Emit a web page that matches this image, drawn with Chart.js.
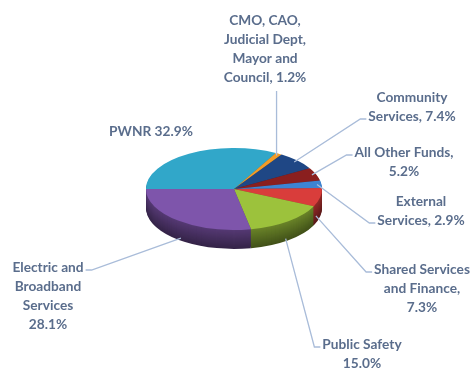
<!DOCTYPE html>
<html lang="en">
<head>
    <meta charset="UTF-8">
    <title>Budget by Area</title>
    <style>
        *{
            margin:0;
            padding:0;
        }
        body{
            width: 473px;
            height: 370px;
            background: #ffffff;
            overflow: hidden;
        }
        .wrap{
            position: relative;
            width: 473px;
            height: 370px;
        }
    </style>
</head>
<body>
    <div class="wrap">
        <canvas id="pieChart" width="473" height="370"></canvas>
    </div>
    <script src="https://cdn.jsdelivr.net/npm/chart.js@4.4.1/dist/chart.umd.min.js"></script>
    <script>
        // slices, clockwise from 9 o'clock
        const categories = [
            'PWNR',
            'CMO, CAO, Judicial Dept, Mayor and Council',
            'Community Services',
            'All Other Funds',
            'External Services',
            'Shared Services and Finance',
            'Public Safety',
            'Electric and Broadband Services'
        ];
        const shares = [32.9, 1.2, 7.4, 5.2, 2.9, 7.3, 15.0, 28.1];

        // wrapped label text, {v} gets the share
        const labelLines = [
            ['PWNR {v}'],
            ['CMO, CAO,', 'Judicial Dept,', 'Mayor and', 'Council, {v}'],
            ['Community', 'Services, {v}'],
            ['All Other Funds,', '{v}'],
            ['External', 'Services, {v}'],
            ['Shared Services', 'and Finance,', '{v}'],
            ['Public Safety', '{v}'],
            ['Electric and', 'Broadband', 'Services', '{v}']
        ];

        const topColors = ['#31a7c9', '#f39b26', '#1f4785', '#8a1f1f', '#3d84d3', '#d93d3b', '#9cc23c', '#7e55ab'];

        // where each label sits and which side the leader line enters
        const labelLayout = [
            {x: 151, y: 132, lead: null},
            {x: 265, y: 21, lead: 'bottom'},
            {x: 412, y: 98, lead: 'left', line: 1},
            {x: 404, y: 153, lead: 'left', line: 0},
            {x: 421, y: 202, lead: 'left', line: 1},
            {x: 422, y: 270, lead: 'left', line: 0},
            {x: 362, y: 345, lead: 'left', line: 0},
            {x: 48, y: 268, lead: 'right', line: 0}
        ];

        const TILT = 0.465;
        const DEPTH = 19;
        const LINE_H = 19;

        function shade(hex, f) {
            const n = parseInt(hex.slice(1), 16);
            const r = Math.round(((n >> 16) & 255) * f);
            const g = Math.round(((n >> 8) & 255) * f);
            const b = Math.round((n & 255) * f);
            return 'rgb(' + r + ',' + g + ',' + b + ')';
        }

        function squash(ctx, cy, dy) {
            ctx.translate(0, cy + dy);
            ctx.scale(1, TILT);
            ctx.translate(0, -cy);
        }

        // flattens the pie and builds the side wall under it
        const tiltPlugin = {
            id: 'tilt',
            beforeDatasetsDraw(chart) {
                const ctx = chart.ctx;
                const arcs = chart.getDatasetMeta(0).data;
                const cx = arcs[0].x, cy = arcs[0].y;
                ctx.save();
                for (let d = DEPTH; d >= 1; d--) {
                    const f = 0.42 + 0.26 * (1 - d / DEPTH);
                    ctx.save();
                    squash(ctx, cy, d);
                    arcs.forEach((arc, i) => {
                        ctx.beginPath();
                        ctx.moveTo(cx, cy);
                        ctx.arc(cx, cy, arc.outerRadius, arc.startAngle, arc.endAngle);
                        ctx.closePath();
                        ctx.fillStyle = shade(topColors[i], f);
                        ctx.fill();
                    });
                    ctx.restore();
                }
                squash(ctx, cy, 0);
            },
            afterDatasetsDraw(chart) {
                chart.ctx.restore();
            }
        };

        // text labels with leader lines back to the slices
        const labelPlugin = {
            id: 'sliceLabels',
            afterDraw(chart) {
                const ctx = chart.ctx;
                const arcs = chart.getDatasetMeta(0).data;
                const cx = arcs[0].x, cy = arcs[0].y;
                ctx.save();
                ctx.font = 'bold 13.7px Lato';
                ctx.textAlign = 'center';
                ctx.textBaseline = 'middle';
                arcs.forEach((arc, i) => {
                    const lay = labelLayout[i];
                    const lines = labelLines[i].map(s => s.replace('{v}', shares[i].toFixed(1) + '%'));
                    ctx.fillStyle = '#5a6d8c';
                    lines.forEach((s, k) => ctx.fillText(s, lay.x, lay.y + k * LINE_H));
                    if (!lay.lead) return;

                    const mid = (arc.startAngle + arc.endAngle) / 2;
                    const r = arc.outerRadius * 0.95;
                    const ax = cx + r * Math.cos(mid);
                    const ay = cy + r * Math.sin(mid) * TILT + (Math.sin(mid) > 0 ? DEPTH : 0);

                    ctx.strokeStyle = '#a9bcd9';
                    ctx.lineWidth = 1.3;
                    ctx.beginPath();
                    if (lay.lead === 'bottom') {
                        ctx.moveTo(ax, lay.y + (lines.length - 1) * LINE_H + 13);
                        ctx.lineTo(ax, ay);
                    } else {
                        const w = ctx.measureText(lines[lay.line]).width;
                        const ty = lay.y + lay.line * LINE_H + 2;
                        const ex = lay.lead === 'left' ? lay.x - w / 2 - 2 : lay.x + w / 2 + 2;
                        const hx = lay.lead === 'left' ? ex - 6 : ex + 6;
                        ctx.moveTo(ex, ty);
                        ctx.lineTo(hx, ty);
                        ctx.lineTo(ax, ay);
                    }
                    ctx.stroke();
                });
                ctx.restore();
            }
        };

        const pctx = document.getElementById('pieChart').getContext('2d');
        const pieChart = new Chart(pctx, {
            type: 'pie',
            data: {
                labels: categories,
                datasets: [{
                    label: 'Share',
                    data: shares,
                    backgroundColor: topColors,
                    borderWidth: 0
                }]
            },
            options: {
                responsive: false,
                animation: false,
                rotation: 270,
                layout: {
                    padding: {left: 100, right: 105, top: 101, bottom: 93}
                },
                plugins: {
                    legend: {display: false},
                    tooltip: {enabled: false}
                }
            },
            plugins: [tiltPlugin, labelPlugin]
        });
    </script>
</body>
</html>
